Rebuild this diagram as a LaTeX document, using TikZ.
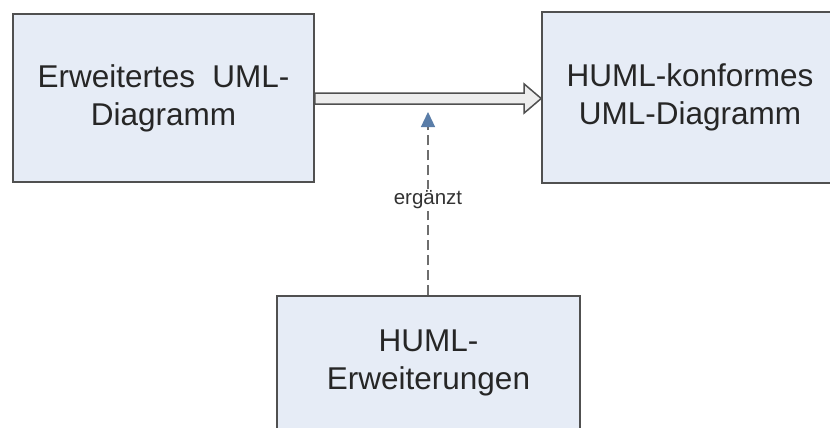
\documentclass[tikz,border=0pt]{standalone}
\usepackage{fontspec}
\setmainfont{Liberation Sans}
\usetikzlibrary{arrows.meta,calc}
\definecolor{boxfill}{HTML}{E6ECF6}
\definecolor{boxline}{HTML}{505050}
\definecolor{arrowfill}{HTML}{EDEDED}
\definecolor{dashline}{HTML}{6E6E6E}
\definecolor{tipblue}{HTML}{5A7DA8}
\begin{document}
\begin{tikzpicture}[x=1pt,y=-1pt,
  box/.style={draw=boxline, line width=1.6pt, fill=boxfill, rectangle, inner sep=0pt},
  boxtext/.style={font=\fontsize{31.5}{38}\selectfont, text=black!85, align=center, inner sep=0pt},
  hollow/.style={draw=boxline, line width=1.5pt, fill=arrowfill, line join=miter},
  relation/.style={draw=dashline, line width=1.2pt, dash pattern=on 10pt off 5pt,
    -{Triangle[length=15pt,width=14pt,fill=tipblue,color=tipblue]}},
  lbl/.style={font=\fontsize{20.5}{24}\selectfont, text=black!80, fill=white, inner sep=2pt}]
\useasboundingbox (0,0) rectangle (830,428);
\fill[white] (0,0) rectangle (830,428);

% boxes
\node[box, minimum width=301pt, minimum height=168pt] (ext) at (163.5,98) {};
\node[box, minimum width=296pt, minimum height=171pt] (conf) at (690,97.5) {};
\node[box, minimum width=303pt, minimum height=170pt] (huml) at (428.5,381) {};

% box texts
\node[boxtext] (extT) at (ext.center) {Erweitertes\hspace{0.55em}UML-\\Diagramm};
\node[boxtext] (confT) at (conf.center) {HUML-konformes\\UML-Diagramm};
\node[boxtext] (humlT) at (428.5,363) {HUML-\\Erweiterungen};

% hollow transformation arrow
\coordinate (aS) at (ext.east |- 0,98.5);
\coordinate (aT) at (conf.west |- 0,98.5);
\path[hollow] ($(aS)+(0,-5.5)$) -- ($(aT)+(-17,-5.5)$) -- ($(aT)+(-17,-14.5)$) -- (aT)
  -- ($(aT)+(-17,14.5)$) -- ($(aT)+(-17,5.5)$) -- ($(aS)+(0,5.5)$) -- cycle;

% dashed dependency
\coordinate (dTip) at (428,112);
\draw[relation] (huml.north -| 428,0) -- node[lbl, pos=0.52] (lab) {ergänzt} (dTip);
\end{tikzpicture}
\end{document}
